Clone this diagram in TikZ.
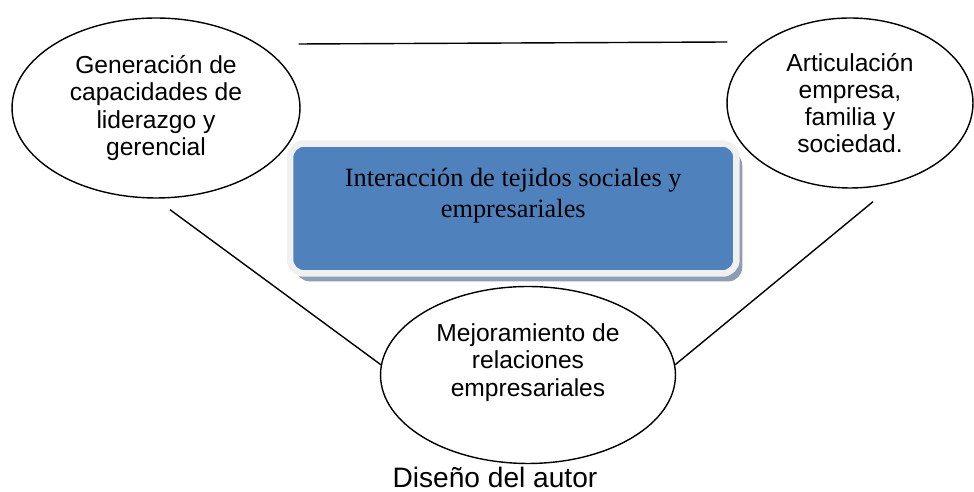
\documentclass[tikz,border=0pt]{standalone}
\usepackage{fontspec}
\setmainfont{Liberation Sans}
\newfontfamily\serifa{Liberation Serif}
\usepackage{tikz}
\usetikzlibrary{shapes.geometric, shadows}
\definecolor{azul}{HTML}{4F81BD}
\definecolor{borde}{HTML}{F0F0F0}
\definecolor{sombra}{HTML}{8E9DB4}
\tikzstyle{idea}  = [ellipse,draw,line width=0.8pt,align=center,inner sep=1pt,
                     font=\fontsize{14}{15.5}\selectfont]
\tikzstyle{linea} = [line width=0.8pt]
\tikzstyle{caja}  = [rectangle,rounded corners=0.28cm,fill=azul,draw=borde,line width=0.13cm,
                     minimum width=8.93cm,minimum height=2.6cm,align=center,
                     font=\serifa\fontsize{15}{18}\selectfont,
                     drop shadow={shadow xshift=3.3pt,shadow yshift=-4.5pt,fill=sombra,opacity=1}]

\begin{document}
\begin{tikzpicture}[x=0.02cm,y=-0.02cm]
  \useasboundingbox (0,0) rectangle (974,492);

  %the three ellipses
  \node[idea,minimum width=5.76cm,minimum height=3.6cm] (gen) at (156,108)
    {Generación de\\capacidades de\\liderazgo y\\gerencial};
  \node[idea,minimum width=4.92cm,minimum height=3.4cm] (art) at (850,103)
    {Articulación\\empresa,\\familia y\\sociedad.};
  \node[idea,minimum width=5.9cm,minimum height=3.54cm,text depth=17pt] (mejora) at (528,375)
    {Mejoramiento de\\relaciones\\empresariales};

  %the box in the middle
  \node[caja,text depth=18pt] (inter) at (513.25,208.5)
    {Interacción de tejidos sociales y\\empresariales};

  %free ends of the lines
  \coordinate (t1) at ([shift={(-2,-64)}]gen.east);
  \coordinate (t2) at ([shift={(1,-61)}]art.west);
  \coordinate (d1) at ([shift={(14,11)}]gen.south);
  \coordinate (d2) at ([shift={(23,13)}]art.south);

  \draw[linea] (t1) -- (t2);
  \draw[linea] (d1) -- (mejora.176);
  \draw[linea] (d2) -- (mejora.4);

  \node[font=\fontsize{16}{19}\selectfont,anchor=base] (pie) at (495,488) {Diseño del autor};
\end{tikzpicture}
\end{document}
